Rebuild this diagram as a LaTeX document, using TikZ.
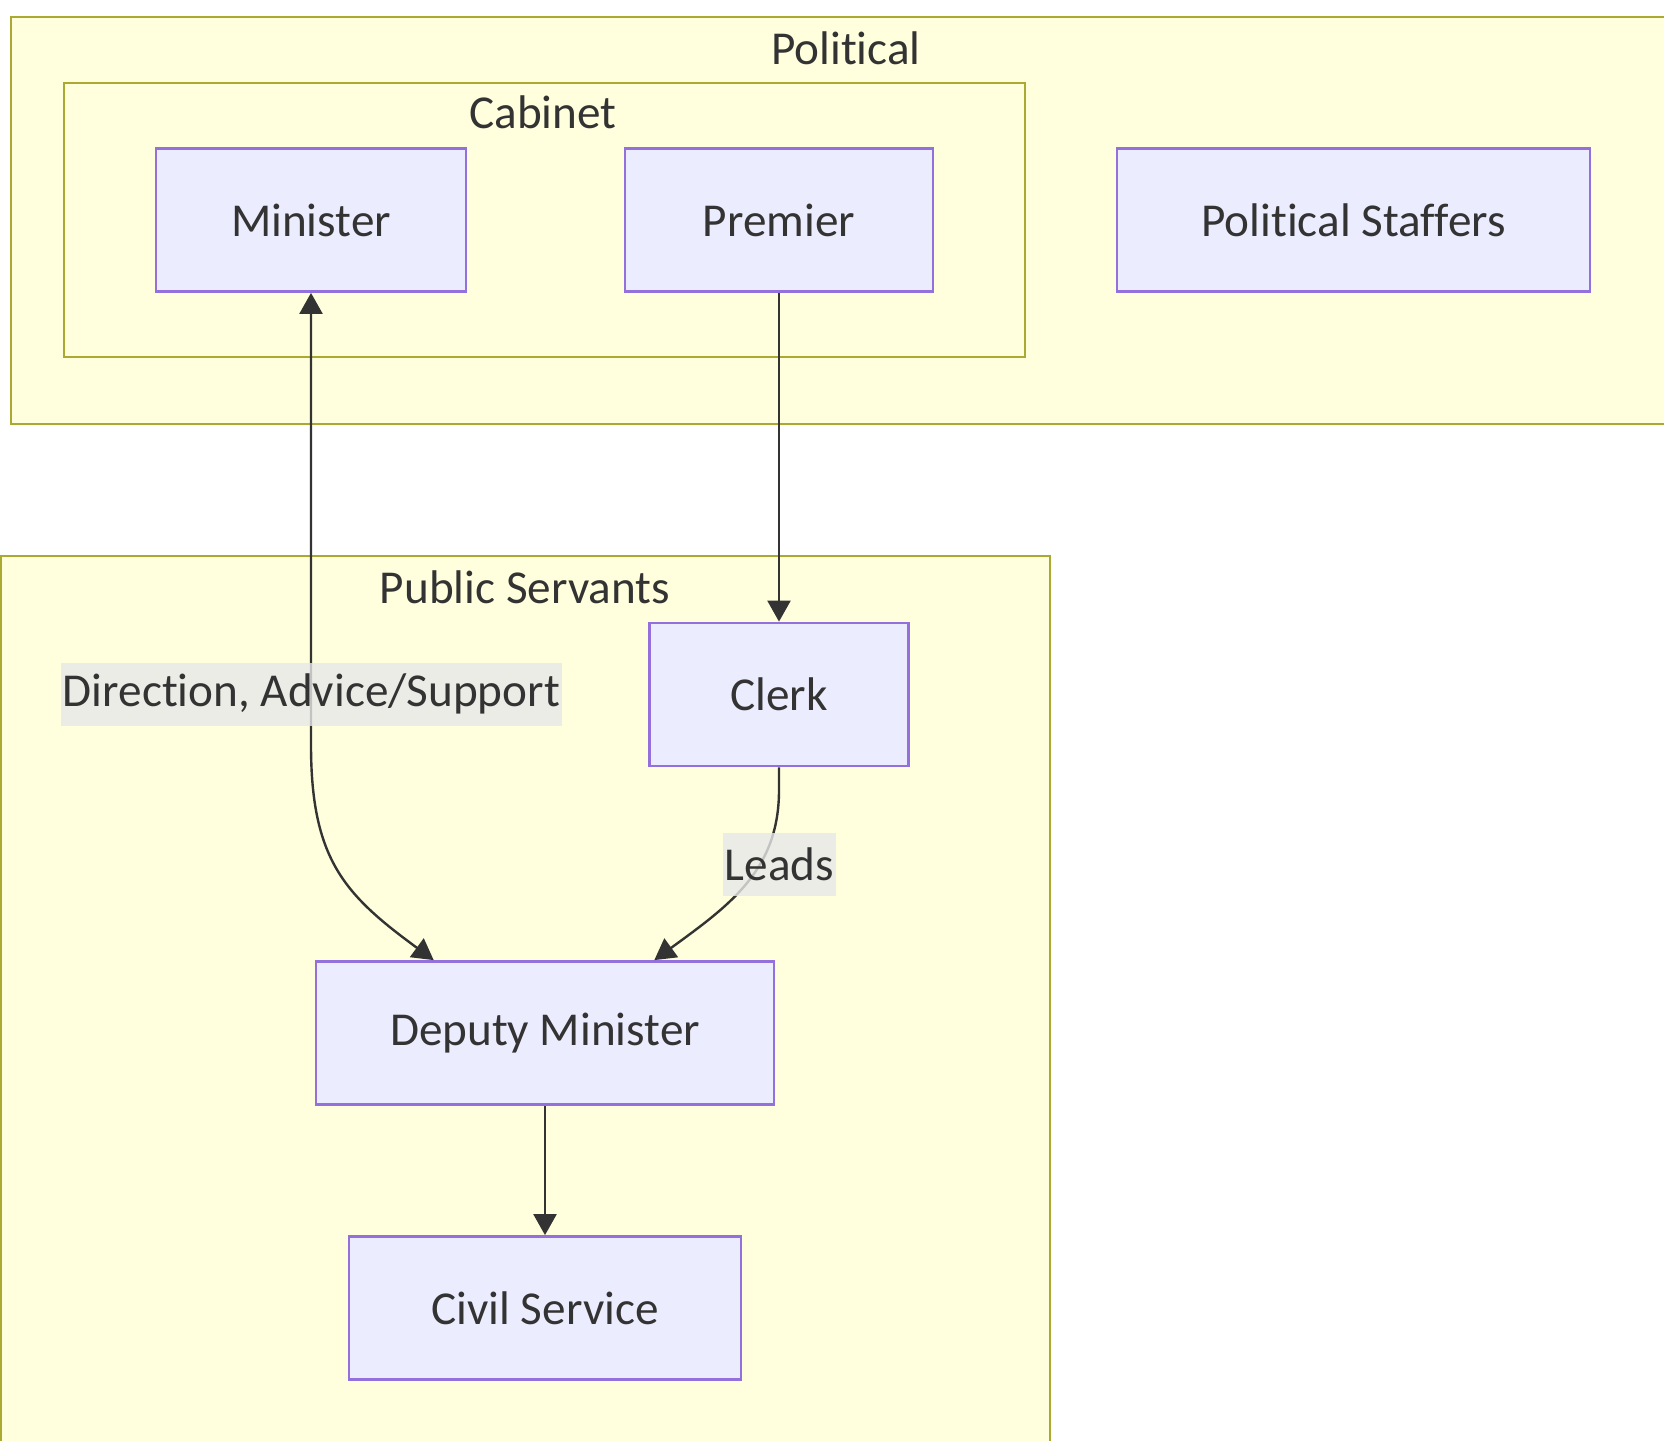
\documentclass[tikz,border=0pt]{standalone}
\usepackage{fontspec}
\setmainfont{Carlito}[RawFeature={-liga}]
\usetikzlibrary{arrows.meta}

\definecolor{nodefill}{HTML}{ECECFF}
\definecolor{nodeline}{HTML}{9370DB}
\definecolor{clusterfill}{HTML}{FFFFDE}
\definecolor{clusterline}{HTML}{AAAA33}
\definecolor{ink}{HTML}{333333}
\definecolor{labelbg}{HTML}{E8E8E8}

\tikzset{
  txt/.style={text=ink, font=\fontsize{23.6}{28}\selectfont},
  cluster/.style={draw=clusterline, fill=clusterfill, line width=1.3pt},
  boxnode/.style={txt, draw=nodeline, fill=nodefill, line width=1.3pt,
    rectangle, inner sep=0pt, minimum height=71.6pt},
  edgelabel/.style={txt, fill=labelbg, fill opacity=0.8, text opacity=1,
    inner xsep=1pt, inner ysep=0pt, minimum height=31.5pt},
  title/.style={txt, inner sep=0pt},
  edge/.style={draw=ink, line width=1.2pt},
  >={Triangle[length=10.5pt, width=11.5pt]}
}

\begin{document}
\begin{tikzpicture}[x=0.5pt, y=-0.5pt]
  \useasboundingbox (0,0) rectangle (1664,1440);
  \begin{scope}
    \clip (0,0) rectangle (1664,1440);
    % group frames
    \path[cluster] (11,17) rectangle (1681,424);
    \path[cluster] (64,83) rectangle (1025,357);
    \path[cluster] (1,556) rectangle (1050,1470);
  \end{scope}

  % group titles
  \node[title] (tpol) at (846,48) {Political};
  \node[title] (tcab) at (543,112) {Cabinet};
  \node[title] (tpub) at (525,587) {Public Servants};

  % nodes
  \node[boxnode, minimum width=155pt]   (min)   at (311,220)    {Minister};
  \node[boxnode, minimum width=154pt]   (prem)  at (779,220)    {Premier};
  \node[boxnode, minimum width=236.5pt] (staff) at (1353.5,220) {Political Staffers};
  \node[boxnode, minimum width=129.5pt] (clerk) at (779,694.5)  {Clerk};
  \node[boxnode, minimum width=229pt]   (dep)   at (545,1033)   {Deputy Minister};
  \node[boxnode, minimum width=196pt]   (civ)   at (545,1308)   {Civil Service};

  % connectors
  \draw[edge, <->] (min.south) -- (311,745)
    .. controls (311,860) and (345,895) .. ([xshift=59.5pt]dep.north west);
  \draw[edge, ->] (prem.south) -- (clerk.north);
  \draw[edge, ->] (clerk.south) -- (779,790)
    .. controls (779,870) and (730,905) .. ([xshift=-60.5pt]dep.north east);
  \draw[edge, ->] (dep.south) -- (civ.north);

  % connector labels
  \node[edgelabel, minimum width=247.5pt] (ldir) at (311.5,694) {Direction, Advice/Support};
  \node[edgelabel, minimum width=54.5pt] (llead) at (779.5,864) {Leads};
\end{tikzpicture}
\end{document}
